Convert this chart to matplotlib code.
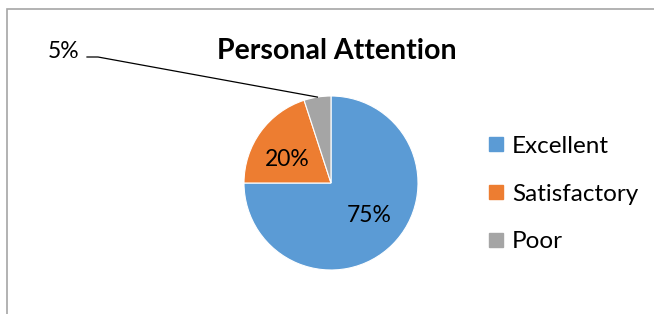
import numpy as np
import matplotlib
matplotlib.use("Agg")
import matplotlib.pyplot as plt
from matplotlib.patches import Rectangle
from matplotlib.lines import Line2D

categories = ["Excellent", "Satisfactory", "Poor"]
values = [75, 20, 5]
pct_labels = ["75%", "20%", "5%"]
colors = ["#5B9BD5", "#ED7D31", "#A5A5A5"]

W, H = 654, 314
plt.rcParams['font.family'] = ['Lato', 'DejaVu Sans']

fig = plt.figure(figsize=(W / 100, H / 100), dpi=100)

# chart border (runs off the right and bottom edges)
fig.patches.append(Rectangle((7 / W, -0.1), 1.2, 1 - 9 / H + 0.1, transform=fig.transFigure,
                             fill=False, edgecolor="#A6A6A6", linewidth=1.2))

# pie axes: centre (331,183) px, radius 87 px
cx, cy, r = 331, 183, 87
ax = fig.add_axes([(cx - r) / W, (H - cy - r) / H, 2 * r / W, 2 * r / H])
wedges, _ = ax.pie(values, colors=colors, startangle=90, counterclock=False,
                   wedgeprops=dict(edgecolor="white", linewidth=0.8))
ax.set_xlim(-1, 1)
ax.set_ylim(-1, 1)
ax.set_aspect("auto")


def px(x, y):
    return (x - cx) / r, (cy - y) / r


# data labels
ax.text(*px(369, 216), pct_labels[0], ha="center", va="center", fontsize=16.5)
ax.text(*px(287, 160), pct_labels[1], ha="center", va="center", fontsize=16.5)
ax.text(*px(64, 51), pct_labels[2], ha="center", va="center", fontsize=16.5)

# leader line for the small slice
w = wedges[2]
mid = np.deg2rad((w.theta1 + w.theta2) / 2)
ex, ey = np.cos(mid), np.sin(mid)
p1 = px(87, 57)
p2 = px(98, 57)
ax.plot([p1[0], p2[0], ex], [p1[1], p2[1], ey], color="black", lw=0.9, clip_on=False)

fig.text(337 / W, 1 - 51 / H, "Personal Attention", ha="center", va="center",
         fontsize=20.5, fontweight="bold")

handles = [Line2D([], [], marker="s", linestyle="none", markersize=10,
                  markerfacecolor=c, markeredgecolor=c) for c in colors]
fig.legend(handles, categories, loc="center left", bbox_to_anchor=(464 / W, 1 - 194 / H),
           frameon=False, fontsize=17.5, labelspacing=1.09, handletextpad=0.28,
           handlelength=0.8)

fig.savefig("out.png", dpi=100)
